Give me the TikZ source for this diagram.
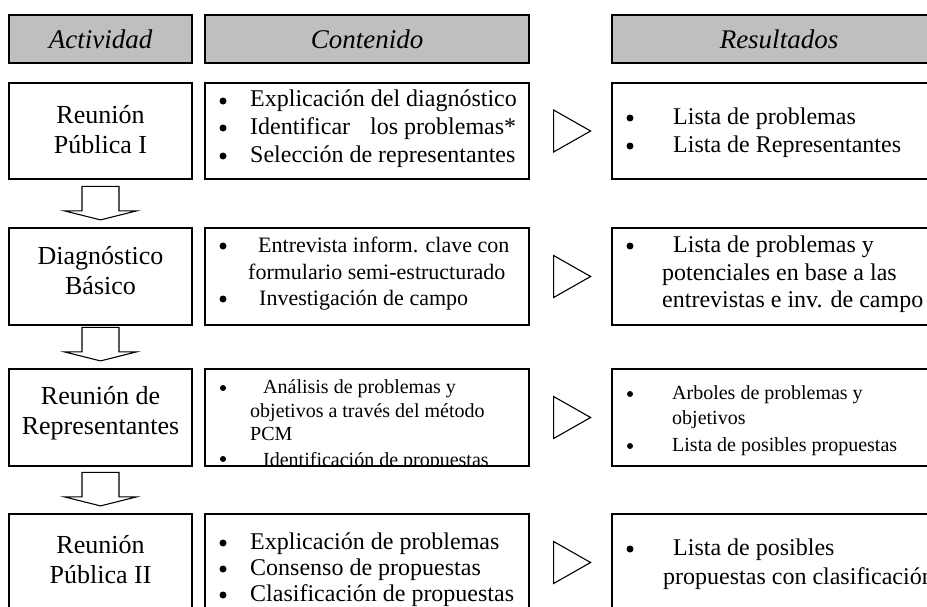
\documentclass[tikz,border=0pt]{standalone}
\usepackage{fontspec}
\setmainfont{Liberation Serif}
\usetikzlibrary{calc,shadows}
\tikzset{
  shad/.style={drop shadow={shadow xshift=1.4pt, shadow yshift=-1.4pt, fill=black!60, opacity=1}},
  hdr/.style={draw=black, line width=1.2pt, fill=black!25, shad, inner sep=0pt, minimum height=48pt},
  wbox/.style={draw=black, line width=1.2pt, fill=white, shad, inner sep=0pt},
  hdrtxt/.style={inner sep=0pt, font=\fontsize{27}{32}\selectfont\itshape},
  acttxt/.style={inner sep=0pt, align=center, font=\fontsize{26}{30}\selectfont},
  tl/.style={anchor=base west, inner sep=0pt},
  dot/.style={circle, fill=black, inner sep=0pt, minimum size=7pt},
  sdot/.style={circle, fill=black, inner sep=0pt, minimum size=6pt},
  fa/.style={font=\fontsize{24}{28}\selectfont},
  fb/.style={font=\fontsize{22}{26}\selectfont},
  fc/.style={font=\fontsize{20}{24}\selectfont},
  blockdown/.pic={\draw[line width=1.1pt, fill=white, line join=miter]
      (-18.5,-41) -- (18.5,-41) -- (18.5,-16.5) -- (36,-16.5) -- (0,-7.5)
      -- (-36,-16.5) -- (-18.5,-16.5) -- cycle;},
  tri/.pic={\draw[line width=1.1pt, fill=white, line join=miter]
      (0,-21) -- (37,0) -- (0,21) -- cycle;}
}
\begin{document}
\begin{tikzpicture}[x=1pt,y=-1pt]
\useasboundingbox (0,0) rectangle (927,606);
\clip (0,0) rectangle (927,606);

% headers
\node[hdr, minimum width=183pt] (h1) at (100.5,39) {};
\node[hdr, minimum width=324pt] (h2) at (367,39) {};
\node[hdr, minimum width=334pt] (h3) at (779,39) {};
\node[hdrtxt] (h1t) at (h1.center) {Actividad};
\node[hdrtxt] (h2t) at (h2.center) {Contenido};
\node[hdrtxt] (h3t) at (h3.center) {Resultados};

% activity boxes
\node[wbox, minimum width=183pt, minimum height=96pt] (a1) at (100.5,131) {};
\node[wbox, minimum width=183pt, minimum height=97pt] (a2) at (100.5,276.5) {};
\node[wbox, minimum width=183pt, minimum height=97pt] (a3) at (100.5,417.5) {};
\node[wbox, minimum width=183pt, minimum height=97pt] (a4) at (100.5,562.5) {};
\node[acttxt] (a1t) at ($(a1.center)+(0,-1)$) {Reunión\\Pública I};
\node[acttxt] (a2t) at ($(a2.center)+(0,-6)$) {Diagnóstico\\Básico};
\node[acttxt] (a3t) at ($(a3.center)+(0,-4)$) {Reunión de\\Representantes};
\node[acttxt] (a4t) at ($(a4.center)+(0,-3)$) {Reunión\\Pública II};

% content boxes
\node[wbox, minimum width=324pt, minimum height=96pt] (c1) at (367,131) {};
\node[wbox, minimum width=324pt, minimum height=97pt] (c2) at (367,276.5) {};
\node[wbox, minimum width=324pt, minimum height=97pt] (c3) at (367,417.5) {};
\node[wbox, minimum width=324pt, minimum height=97pt] (c4) at (367,562.5) {};

% result boxes
\node[wbox, minimum width=334pt, minimum height=96pt] (r1) at (779,131) {};
\node[wbox, minimum width=334pt, minimum height=97pt] (r2) at (779,276.5) {};
\node[wbox, minimum width=334pt, minimum height=97pt] (r3) at (779,417.5) {};
\node[wbox, minimum width=334pt, minimum height=97pt] (r4) at (779,562.5) {};

% block arrows between activities
\pic at (a2.north) {blockdown};
\pic at (a3.north) {blockdown};
\pic at (a4.north) {blockdown};

% triangles between content and results
\pic at ($(c1.east)+(24,0)$) {tri};
\pic at ($(c2.east)+(24,0)$) {tri};
\pic at ($(c3.east)+(24,0)$) {tri};
\pic at ($(c4.east)+(24,0)$) {tri};

% row 1 content
\node[dot] (c1b1) at (223,101) {};
\node[dot] (c1b2) at (223,128) {};
\node[dot] (c1b3) at (223,156) {};
\node[tl,fa] (c1l1) at (250,106) {Explicación del diagnóstico};
\node[tl,fa] (c1l2) at (250,134) {\makebox[266pt][s]{Identificar\hfill\ los problemas*}};
\node[tl,fa] (c1l3) at (250,162) {Selección de representantes};

% row 1 results
\node[dot] (r1b1) at (630,118) {};
\node[dot] (r1b2) at (630,146) {};
\node[tl,fa] (r1l1) at (673,124) {Lista de problemas};
\node[tl,fa] (r1l2) at (673,152) {Lista de Representantes};

% row 2 content
\node[dot] (c2b1) at (223,246) {};
\node[dot] (c2b2) at (223,299) {};
\node[tl,fb] (c2l1) at (258,252) {Entrevista inform. clave con};
\node[tl,fb] (c2l2) at (248,279) {formulario semi-estructurado};
\node[tl,fb] (c2l3) at (259,305) {Investigación de campo};

% row 2 results
\node[dot] (r2b1) at (630,246) {};
\node[tl,fa] (r2l1) at (673,252) {Lista de problemas y};
\node[tl,fa] (r2l2) at (662,280) {potenciales en base a las};
\node[tl,fa] (r2l3) at (662,307) {entrevistas e inv. de campo};

% row 3 content (clipped by its box)
\begin{scope}
\clip (c3.north west) rectangle (c3.south east);
\node[sdot] (c3b1) at (223,388) {};
\node[sdot] (c3b2) at (223,459) {};
\node[tl,fc] (c3l1) at (263,393) {Análisis de problemas y};
\node[tl,fc] (c3l2) at (250,417) {objetivos a través del método};
\node[tl,fc] (c3l3) at (250,440) {PCM};
\node[tl,fc] (c3l4) at (263,466) {Identificación de propuestas};
\end{scope}
\draw[line width=1.2pt] (c3.north west) rectangle (c3.south east);

% row 3 results
\node[sdot] (r3b1) at (630,394) {};
\node[sdot] (r3b2) at (630,446) {};
\node[tl,fc] (r3l1) at (672,399) {Arboles de problemas y};
\node[tl,fc] (r3l2) at (672,424) {objetivos};
\node[tl,fc] (r3l3) at (672,451) {Lista de posibles propuestas};

% row 4 content
\node[dot] (c4b1) at (223,543) {};
\node[dot] (c4b2) at (223,569) {};
\node[dot] (c4b3) at (223,595) {};
\node[tl,fa] (c4l1) at (250,549) {Explicación de problemas};
\node[tl,fa] (c4l2) at (250,575) {Consenso de propuestas};
\node[tl,fa] (c4l3) at (250,601) {Clasificación de propuestas};

% row 4 results
\node[dot] (r4b1) at (630,549) {};
\node[tl,fa] (r4l1) at (673,555) {Lista de posibles};
\node[tl,fa] (r4l2) at (663,584) {propuestas con clasificación};
\end{tikzpicture}
\end{document}
